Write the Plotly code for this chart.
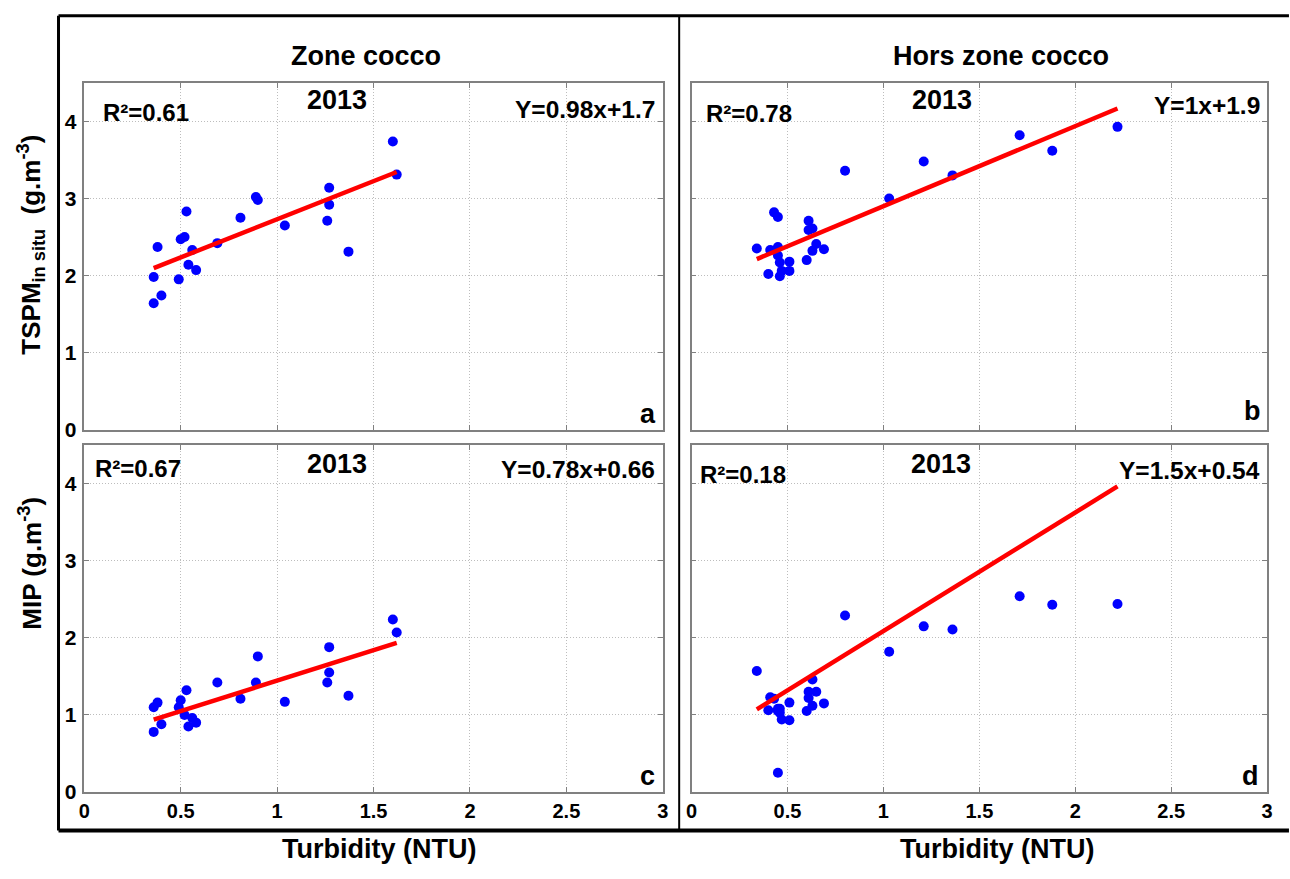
import numpy as np
import plotly.graph_objects as go

W, H = 1290, 879

# ---------------- data ----------------
turb_zone = [0.36, 0.36, 0.38, 0.40, 0.49, 0.50, 0.52, 0.53, 0.54, 0.56, 0.58,
             0.69, 0.81, 0.89, 0.90, 1.04, 1.26, 1.27, 1.27, 1.37, 1.60, 1.62]
tspm_zone = [1.98, 1.64, 2.37, 1.74, 1.95, 2.47, 2.50, 2.83, 2.14, 2.33, 2.07,
             2.42, 2.75, 3.02, 2.98, 2.65, 2.71, 3.14, 2.92, 2.31, 3.74, 3.31]
mip_zone = [1.10, 0.78, 1.16, 0.88, 1.10, 1.19, 1.00, 1.32, 0.85, 0.96, 0.90,
            1.42, 1.21, 1.42, 1.76, 1.17, 1.42, 1.88, 1.55, 1.25, 2.24, 2.07]

turb_hors = [0.34, 0.40, 0.41, 0.43, 0.45, 0.45, 0.45, 0.46, 0.47, 0.46, 0.51, 0.51, 0.60,
             0.61, 0.61, 0.63, 0.63, 0.65, 0.69, 0.80, 1.03, 1.21, 1.36, 1.71, 1.88, 2.22]
tspm_hors = [2.35, 2.02, 2.33, 2.82, 2.76, 2.37, 2.26, 2.17, 2.06, 1.99, 2.18, 2.06, 2.20,
             2.71, 2.59, 2.61, 2.32, 2.41, 2.34, 3.36, 3.00, 3.48, 3.30, 3.82, 3.62, 3.93]
mip_hors = [1.57, 1.06, 1.23, 1.21, 1.08, 0.25, 1.05, 1.03, 0.94, 1.08, 1.16, 0.93, 1.05,
            1.30, 1.22, 1.46, 1.12, 1.30, 1.15, 2.29, 1.82, 2.15, 2.11, 2.54, 2.43, 2.44]

# regression lines as drawn (slope, intercept) for panels a, b, c, d
fit_slope = [0.99, 1.04, 0.79, 1.54]
fit_intercept = [1.74, 1.86, 0.655, 0.548]

panel_letters = ["a", "b", "c", "d"]
r2_labels = ["R²=0.61", "R²=0.78", "R²=0.67", "R²=0.18"]
eq_labels = ["Y=0.98x+1.7", "Y=1x+1.9", "Y=0.78x+0.66", "Y=1.5x+0.54"]
year_label = "2013"
col_titles = ["Zone cocco", "Hors zone cocco"]
x_title = "Turbidity (NTU)"
y_titles = ["TSPM<sub>in situ</sub>  (g.m<sup>-3</sup>)", "MIP (g.m<sup>-3</sup>)"]

x_tickvals = [0, 0.5, 1, 1.5, 2, 2.5, 3]
x_ticktext = ["0", "0.5", "1", "1.5", "2", "2.5", "3"]
y_tickvals = [0, 1, 2, 3, 4]
y_ticktext = ["0", "1", "2", "3", "4"]

# ---------------- layout helpers ----------------
def px(x):
    return x / W

def py(y):
    return 1 - y / H

FONT = "Liberation Sans, Arial, sans-serif"

# panel pixel boxes (left, right, top, bottom)
boxes = {
    "a": (79, 663, 84, 435),
    "b": (692, 1273, 84, 435),
    "c": (79, 663, 451, 802),
    "d": (692, 1273, 451, 802),
}

panels = [
    ("a", turb_zone, tspm_zone, 0),
    ("b", turb_hors, tspm_hors, 1),
    ("c", turb_zone, mip_zone, 2),
    ("d", turb_hors, mip_hors, 3),
]

fig = go.Figure()
layout = dict(
    width=W, height=H,
    margin=dict(l=0, r=0, t=0, b=0),
    paper_bgcolor="white", plot_bgcolor="white",
    showlegend=False,
    font=dict(family=FONT, color="black"),
)

GRID = dict(showgrid=True, gridcolor="#bdbdbd", griddash="1px,2px", gridwidth=1)
AXLINE = dict(showline=True, linecolor="#808080", linewidth=1.5, mirror="ticks",
              ticks="inside", ticklen=5, tickcolor="#808080", zeroline=False)

for i, (key, xs, ys, k) in enumerate(panels):
    n = i + 1
    xa = "x" if n == 1 else f"x{n}"
    ya = "y" if n == 1 else f"y{n}"
    l, r, t, b = boxes[key]
    fig.add_trace(go.Scatter(
        x=xs, y=ys, mode="markers", xaxis=xa, yaxis=ya,
        marker=dict(color="#0000ff", size=10, line=dict(width=0)),
    ))
    xmin, xmax = min(xs), max(xs)
    lx = np.array([xmin, xmax])
    ly = fit_slope[k] * lx + fit_intercept[k]
    fig.add_trace(go.Scatter(
        x=lx, y=ly, mode="lines", xaxis=xa, yaxis=ya,
        line=dict(color="#ff0000", width=4.5),
    ))
    show_x = key in ("c", "d")
    show_y = key in ("a", "c")
    xkey = "xaxis" if n == 1 else f"xaxis{n}"
    ykey = "yaxis" if n == 1 else f"yaxis{n}"
    layout[xkey] = dict(
        domain=[px(l), px(r)], anchor=ya, range=[0, 3],
        tickvals=x_tickvals, ticktext=x_ticktext, showticklabels=show_x,
        tickfont=dict(family=FONT, size=20, color="black", weight="bold"),
        **GRID, **AXLINE,
    )
    layout[ykey] = dict(
        domain=[py(b), py(t)], anchor=xa, range=[0, 4.5],
        tickvals=y_tickvals, ticktext=y_ticktext, showticklabels=show_y,
        ticklabelstandoff=2,
        tickfont=dict(family=FONT, size=21, color="black", weight="bold"),
        **GRID, **AXLINE,
    )

fig.update_layout(**layout)

annots = []

def txt(text, x, y, size, xanchor="center", angle=0):
    annots.append(dict(
        text=text, x=px(x), y=py(y), xref="paper", yref="paper",
        xanchor=xanchor, yanchor="middle", showarrow=False, textangle=angle,
        font=dict(family=FONT, size=size, color="black", weight="bold"),
    ))

# column titles
txt(col_titles[0], 363, 57, 27)
txt(col_titles[1], 1004, 57, 27)

# year labels
for (x, y) in [(334, 101), (945, 101), (334, 470), (944, 470)]:
    txt(year_label, x, y, 27)

# R2 labels (left aligned)
for lab, (x, y) in zip(r2_labels, [(96, 114), (705, 115), (88, 474), (698, 481)]):
    txt(lab, x, y, 24, xanchor="left")

# equations (right aligned)
for lab, (x, y) in zip(eq_labels, [(657, 111), (1268, 107), (657, 475), (1268, 476)]):
    txt(lab, x, y, 24.5, xanchor="right")

# panel letters
for lab, (x, y) in zip(panel_letters, [(648, 419), (1258, 416), (648, 786), (1256, 786)]):
    txt(lab, x, y, 27)

# x titles
txt(x_title, 376, 860, 27)
txt(x_title, 1000, 860, 27)

# y titles
txt(y_titles[0], 25, 248, 26, angle=-90)
txt(y_titles[1], 25, 570, 26, angle=-90)

fig.update_layout(annotations=annots)

# outer frame
shapes = []
def pline(x0, y0, x1, y1, w):
    shapes.append(dict(type="line", xref="paper", yref="paper",
                       x0=px(x0), y0=py(y0), x1=px(x1), y1=py(y1),
                       line=dict(color="black", width=w)))

pline(53, 16, 1295, 16, 3)
pline(53, 841, 1295, 841, 4)
pline(53, 16, 53, 841, 3)
pline(679.5, 16, 679.5, 841, 2)
fig.update_layout(shapes=shapes)

fig.write_html(
    "out.html",
    config={"displayModeBar": False},
    post_script="document.body.style.margin='0';document.body.style.overflow='hidden';",
)
